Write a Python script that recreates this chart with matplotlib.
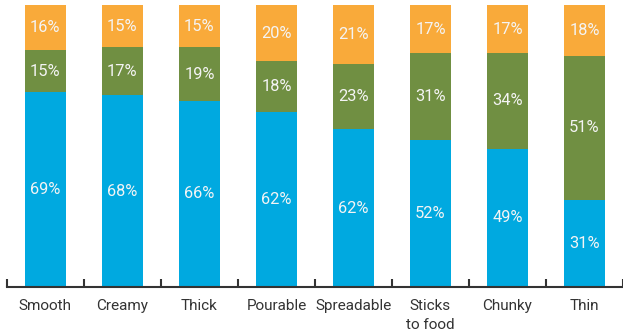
import numpy as np
import matplotlib
matplotlib.use("Agg")
import matplotlib.pyplot as plt

plt.rcParams['font.family'] = ['Roboto', 'DejaVu Sans']

categories = ["Smooth", "Creamy", "Thick", "Pourable", "Spreadable", "Sticks\nto food", "Chunky", "Thin"]
# drawn heights (Spreadable's blue bar is drawn shorter than its label says)
blue = [69, 68, 66, 62, 56, 52, 49, 31]
green = [15, 17, 19, 18, 23, 31, 34, 51]
orange = [16, 15, 15, 20, 21, 17, 17, 18]
blue_labels = ["69%", "68%", "66%", "62%", "62%", "52%", "49%", "31%"]

colors = ['#00A9E0', '#708F42', '#F9AA3A']

fig = plt.figure(figsize=(6.23, 3.36), dpi=100)
ax = fig.add_axes([0.011, 0.146, 0.989, 0.839])

x = np.arange(len(categories))
width = 0.53
bottoms = np.zeros(len(categories))
for vals, col, labs in [(blue, colors[0], blue_labels),
                        (green, colors[1], [f"{v}%" for v in green]),
                        (orange, colors[2], [f"{v}%" for v in orange])]:
    bars = ax.bar(x, vals, width, bottom=bottoms, color=col, edgecolor='none')
    for bar, lab in zip(bars, labs):
        ax.text(bar.get_x() + bar.get_width() / 2, bar.get_y() + bar.get_height() / 2,
                lab, ha='center', va='center', color='#F4F4F4', fontsize=11.8)
    bottoms += np.array(vals)

ax.set_xlim(-0.5, 7.46)
ax.set_ylim(0, 100)
for s in ['top', 'right', 'left']:
    ax.spines[s].set_visible(False)
ax.spines['bottom'].set_color('#333333')
ax.spines['bottom'].set_linewidth(1.5)
ax.set_yticks([])

ax.set_xticks(x)
ax.set_xticklabels(categories, fontsize=11, color='#333333', linespacing=1.4, va='top')
ax.tick_params(axis='x', which='major', length=0, pad=9)
ax.set_xticks(np.arange(-0.5, 8, 1), minor=True)
ax.tick_params(axis='x', which='minor', direction='in', length=6, width=1.5, color='#333333')

plt.savefig("out.png", dpi=100)
